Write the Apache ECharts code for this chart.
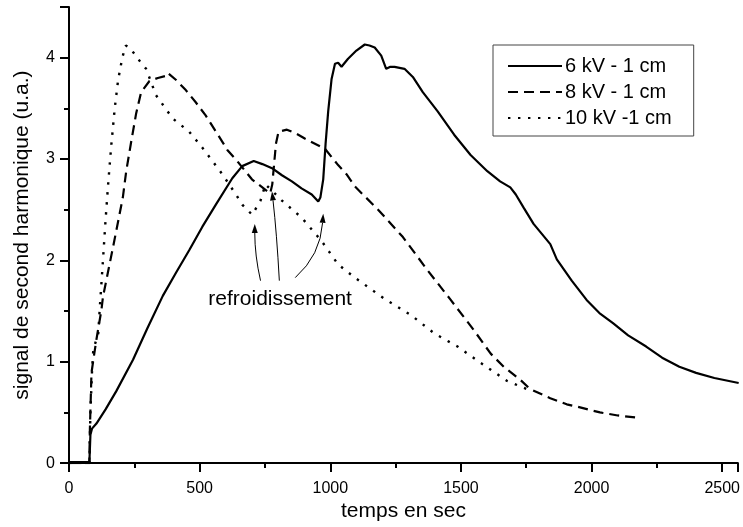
<!DOCTYPE html>
<html>
<head>
<meta charset="utf-8">
<script src="https://cdn.jsdelivr.net/npm/echarts@6/dist/echarts.min.js"></script>
<style>
html,body{margin:0;padding:0;background:#fff;}
#chart{width:743px;height:527px;}
</style>
</head>
<body>
<div id="chart"></div>
<script>
var seriesNames = ['6 kV - 1 cm', '8 kV - 1 cm', '10 kV -1 cm'];

var s6kV = [
  [0,0.01],[40,0.01],[78,0.01],[82,0.28],[88,0.34],[105,0.39],[140,0.53],[181,0.71],[245,1.02],
  [300,1.33],[359,1.65],[410,1.88],[460,2.10],[510,2.33],[562,2.55],[625,2.81],[663,2.93],
  [707,2.98],[740,2.95],[777,2.91],[815,2.84],[853,2.78],[890,2.71],[929,2.65],[954,2.58],
  [962,2.62],[973,2.80],[982,3.15],[992,3.47],[1005,3.79],[1018,3.94],[1030,3.95],[1043,3.91],
  [1068,3.99],[1100,4.07],[1132,4.13],[1150,4.12],[1170,4.10],[1195,4.02],[1214,3.89],
  [1230,3.91],[1246,3.91],[1265,3.90],[1284,3.89],[1316,3.81],[1354,3.66],[1411,3.47],
  [1474,3.24],[1537,3.04],[1601,2.88],[1650,2.78],[1689,2.72],[1710,2.65],[1740,2.52],
  [1778,2.36],[1842,2.16],[1867,2.01],[1924,1.80],[1981,1.61],[2030,1.48],[2082,1.38],
  [2140,1.26],[2209,1.15],[2270,1.04],[2336,0.95],[2400,0.89],[2470,0.84],[2563,0.79]
];

var s8kV = [
  [0,0.0],[78,0.0],[80,0.34],[86,0.89],[95,1.05],[105,1.22],[124,1.51],[130,1.64],[170,2.15],
  [206,2.62],[219,2.88],[238,3.17],[257,3.45],[276,3.66],[308,3.77],[340,3.80],[371,3.82],
  [378,3.85],[410,3.78],[447,3.68],[485,3.56],[523,3.43],[587,3.17],[606,3.09],[650,2.96],
  [700,2.80],[740,2.72],[770,2.66],[778,2.75],[785,2.95],[792,3.15],[802,3.27],[834,3.29],
  [870,3.25],[904,3.20],[980,3.10],[1030,2.94],[1062,2.85],[1094,2.73],[1183,2.50],
  [1278,2.23],[1373,1.90],[1461,1.61],[1550,1.31],[1614,1.08],[1664,0.95],[1728,0.82],
  [1765,0.73],[1842,0.64],[1905,0.58],[1956,0.55],[2032,0.50],[2100,0.47],[2170,0.45]
];

var s10kV = [
  [0,0.0],[78,0.0],[82,0.5],[88,0.9],[93,1.12],[112,1.28],[118,1.54],[130,2.0],[140,2.4],
  [150,2.76],[162,3.14],[175,3.50],[188,3.78],[204,4.00],[217,4.12],[232,4.10],[270,3.97],
  [295,3.89],[333,3.63],[397,3.40],[460,3.27],[511,3.11],[587,2.85],[644,2.63],[663,2.55],
  [701,2.45],[733,2.59],[752,2.75],[780,2.68],[815,2.59],[891,2.42],[967,2.19],[1030,1.96],
  [1094,1.83],[1208,1.62],[1309,1.46],[1398,1.28],[1487,1.15],[1575,0.99],[1677,0.81],
  [1753,0.73]
];

// annotation arrows: [startX, startY, ctrlX, ctrlY, tipX, tipY]
var arrows = [
  [733,1.80, 711,2.05, 711,2.36],
  [805,1.80, 795,2.27, 777,2.68],
  [866,1.83, 962,2.05, 973,2.46]
];
var annotText = [[808,1.62,'refroidissement']];

var xTicks = {min:0, max:2560, interval:500};
var yTicks = {min:0, max:4.5, interval:1};

var FONT = 'Liberation Sans, Arial, sans-serif';
var chart = echarts.init(document.getElementById('chart'));

function axisCommon() {
  return {
    axisLine:{show:true, lineStyle:{color:'#000', width:2}},
    axisTick:{show:true, inside:false, length:9, lineStyle:{color:'#000', width:2}},
    minorTick:{show:true, splitNumber:2, length:5, lineStyle:{color:'#000', width:2}},
    splitLine:{show:false},
    axisLabel:{color:'#000', fontSize:16, fontFamily:FONT, showMaxLabel:false,
               formatter:function(v){ return String(v); }},
    nameTextStyle:{color:'#000', fontSize:21, fontFamily:FONT}
  };
}
var xa = axisCommon();
xa.type='value'; xa.min=xTicks.min; xa.max=xTicks.max; xa.interval=xTicks.interval;
xa.name='temps en sec'; xa.nameLocation='middle'; xa.nameGap=37;
xa.axisLabel.margin=17;
var ya = axisCommon();
ya.type='value'; ya.min=yTicks.min; ya.max=yTicks.max; ya.interval=yTicks.interval;
ya.name='signal de second harmonique (u.a.)'; ya.nameLocation='middle'; ya.nameGap=36;
ya.axisLabel.margin=14;

chart.setOption({
  animation:false,
  backgroundColor:'#fff',
  grid:{left:69, right:0, top:7, bottom:59.5, containLabel:false},
  xAxis:xa,
  yAxis:ya,
  legend:{
    data:seriesNames,
    orient:'vertical',
    left:493, top:45,
    itemWidth:54, itemHeight:14, itemGap:6,
    padding:[11,22,8,14],
    borderColor:'#444', borderWidth:1,
    backgroundColor:'#fff',
    itemStyle:{opacity:0},
    textStyle:{color:'#000', fontSize:20, fontFamily:FONT, padding:[0,0,0,-2]}
  },
  series:[
    {name:seriesNames[0], type:'line', data:s6kV, symbol:'none', z:3,
     lineStyle:{color:'#000', width:2.2, type:'solid'}, itemStyle:{color:'#000'}},
    {name:seriesNames[1], type:'line', data:s8kV, symbol:'none', z:2,
     lineStyle:{color:'#000', width:2.2, type:[10,6]}, itemStyle:{color:'#000'}},
    {name:seriesNames[2], type:'line', data:s10kV, symbol:'none', z:2,
     lineStyle:{color:'#000', width:2.4, type:[2.4,7.6], cap:'butt'}, itemStyle:{color:'#000'}},
    {name:'arrows', type:'custom', data:arrows, silent:true, clip:false,
     encode:{x:[0,2,4], y:[1,3,5]},
     renderItem:function(params, api){
       var p0 = api.coord([api.value(0), api.value(1)]);
       var pc = api.coord([api.value(2), api.value(3)]);
       var p1 = api.coord([api.value(4), api.value(5)]);
       var dx = p1[0]-pc[0], dy = p1[1]-pc[1];
       var len = Math.sqrt(dx*dx+dy*dy) || 1;
       var ux = dx/len, uy = dy/len;
       var L = 9, W = 3;
       var base = [p1[0]-ux*L, p1[1]-uy*L];
       return {type:'group', children:[
         {type:'bezierCurve', shape:{x1:p0[0], y1:p0[1], cpx1:pc[0], cpy1:pc[1], x2:base[0], y2:base[1]},
          style:{stroke:'#000', lineWidth:1, fill:null}},
         {type:'polygon', shape:{points:[[p1[0],p1[1]],[base[0]-uy*W, base[1]+ux*W],[base[0]+uy*W, base[1]-ux*W]]},
          style:{fill:'#000'}}
       ]};
     }},
    {name:'annot', type:'custom', data:annotText, silent:true, clip:false,
     encode:{x:0, y:1},
     renderItem:function(params, api){
       var p = api.coord([api.value(0), api.value(1)]);
       return {type:'text', x:p[0], y:p[1],
         style:{text:annotText[params.dataIndex][2], fill:'#000', font:'21px '+FONT, align:'center', verticalAlign:'middle'}};
     }}
  ]
});
</script>
</body>
</html>
